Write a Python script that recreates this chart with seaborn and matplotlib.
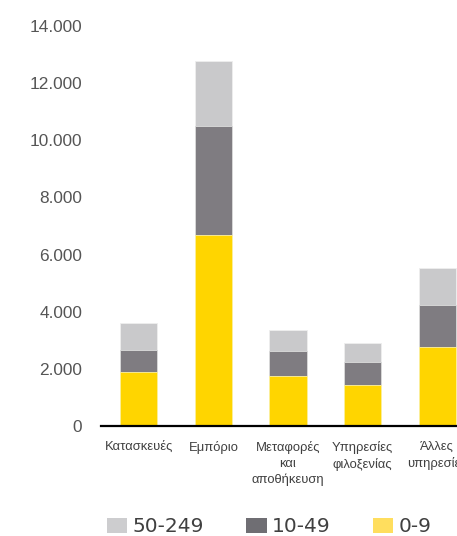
import matplotlib
matplotlib.use("Agg")
import matplotlib.pyplot as plt
import seaborn as sns
import pandas as pd
import numpy as np
from matplotlib.patches import Patch
from matplotlib.ticker import FuncFormatter, MultipleLocator

categories = ["Κατασκευές", "Εμπόριο", "Μεταφορές\nκαι\nαποθήκευση",
              "Υπηρεσίες\nφιλοξενίας", "Άλλες\nυπηρεσίες"]
size_0_9 = [1900, 6700, 1750, 1440, 2760]
size_10_49 = [760, 3790, 880, 810, 1470]
size_50_249 = [950, 2290, 720, 660, 1310]
series_labels = ["50-249", "10-49", "0-9"]

bar_colors = {"0-9": "#FFD500", "10-49": "#7F7C81", "50-249": "#C9C9CB"}
legend_colors = {"0-9": "#FFDE5E", "10-49": "#6F6E73", "50-249": "#CDCDCF"}

sns.set_style("white")
plt.rcParams["font.family"] = ["Liberation Sans", "DejaVu Sans"]

df = pd.DataFrame({
    "cat": categories,
    "c1": np.array(size_0_9),
    "c2": np.array(size_0_9) + np.array(size_10_49),
    "c3": np.array(size_0_9) + np.array(size_10_49) + np.array(size_50_249),
})

fig = plt.figure(figsize=(4.57, 5.36), dpi=100)
ax = fig.add_axes([101/457, 110/536, 374/457, 400/536])

sns.barplot(data=df, x="cat", y="c3", order=categories, color=bar_colors["50-249"],
            width=0.5, ax=ax, saturation=1, edgecolor="#EEEEEE", linewidth=0.6)
sns.barplot(data=df, x="cat", y="c2", order=categories, color=bar_colors["10-49"],
            width=0.5, ax=ax, saturation=1, edgecolor="#DDDDDD", linewidth=0.6)
sns.barplot(data=df, x="cat", y="c1", order=categories, color=bar_colors["0-9"],
            width=0.5, ax=ax, saturation=1, edgecolor="#FFF3A0", linewidth=0.6)

ax.set_ylim(0, 14000)
ax.set_xlim(-0.505, 4.505)
ax.yaxis.set_major_locator(MultipleLocator(2000))
ax.yaxis.set_major_formatter(FuncFormatter(lambda v, p: f"{int(v):,}".replace(",", ".")))
ax.set_xlabel("")
ax.set_ylabel("")
for s in ["top", "right", "left"]:
    ax.spines[s].set_visible(False)
ax.spines["bottom"].set_color("black")
ax.spines["bottom"].set_linewidth(1.6)
ax.tick_params(axis="y", length=0, pad=13.5, labelsize=12.4, labelcolor="#555555")
ax.tick_params(axis="x", length=0, pad=10.5, labelsize=9.4, labelcolor="#404040")
for t in ax.get_xticklabels():
    t.set_linespacing(1.45)
    t.set_verticalalignment("top")

handles = [Patch(facecolor=legend_colors[l], edgecolor="none", label=l) for l in series_labels]
fig.legend(handles=handles, loc="center left", bbox_to_anchor=(107/457, 9/536),
           ncol=3, frameon=False, prop={"family": "DejaVu Sans", "size": 14.5},
           handlelength=1.0, handleheight=0.75, handletextpad=0.28,
           columnspacing=2.1, borderpad=0, borderaxespad=0, labelcolor="#404040")

fig.savefig("out.png", dpi=100)
